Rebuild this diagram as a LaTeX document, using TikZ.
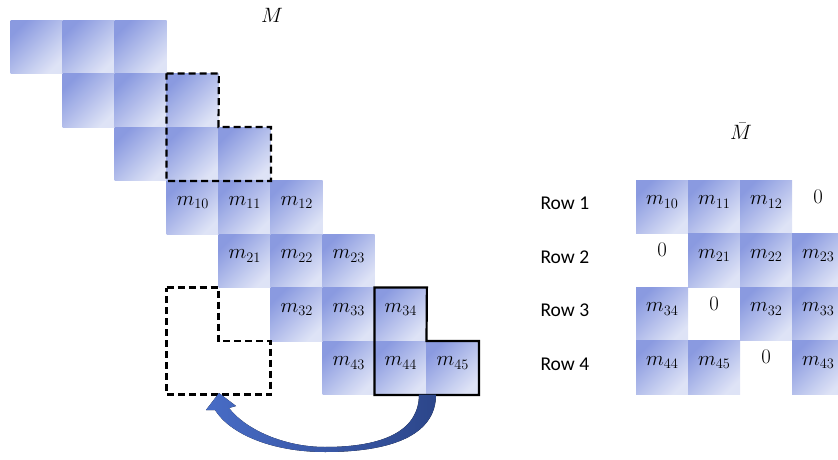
\documentclass[tikz,border=0pt]{standalone}
\usepackage{fontspec}
\newfontfamily\rowfont{Carlito}
\usetikzlibrary{shadings}
\definecolor{celldark}{RGB}{138,154,224}
\definecolor{celllight}{RGB}{222,227,246}
\definecolor{arrowleft}{RGB}{72,108,198}
\definecolor{arrowright}{RGB}{44,70,138}
\tikzset{
  cell/.style={minimum width=52pt, minimum height=53.5pt, inner sep=0pt, anchor=north west,
    shading=axis, top color=celldark, bottom color=celllight, shading angle=45,
    text height=8pt, text depth=12pt,
    font=\fontsize{22}{26}\selectfont},
  zerocell/.style={minimum width=52pt, minimum height=53.5pt, inner sep=0pt, anchor=north west,
    text height=8pt, text depth=15pt,
    font=\fontsize{21}{26}\selectfont},
  dashL/.style={draw=black, line width=2.2pt, dash pattern=on 7pt off 4pt},
  solidL/.style={draw=black, line width=2.2pt},
  rowlab/.style={anchor=west, font=\rowfont\fontsize{19.5}{23}\selectfont},
  title/.style={font=\fontsize{22}{26}\selectfont}
}
\begin{document}
\begin{tikzpicture}[x=1pt,y=-1pt]
\useasboundingbox (0,0) rectangle (838,460);
\begin{scope}
\clip (0,0) rectangle (838,460);
\node[title] (M) at (272,15) {$M$};
\node[title] (Mb) at (741,131) {$\bar{M}$};
% left band matrix
\node[cell] (a00) at (10.5,20) {};
\node[cell] (a01) at (62.5,20) {};
\node[cell] (a02) at (114.5,20) {};
\node[cell] (a11) at (62.5,73.5) {};
\node[cell] (a12) at (114.5,73.5) {};
\node[cell] (a13) at (166.5,73.5) {};
\node[cell] (a22) at (114.5,127) {};
\node[cell] (a23) at (166.5,127) {};
\node[cell] (a24) at (218.5,127) {};
\node[cell] (m10) at (166.5,180.5) {$m_{10}$};
\node[cell] (m11) at (218.5,180.5) {$m_{11}$};
\node[cell] (m12) at (270.5,180.5) {$m_{12}$};
\node[cell] (m21) at (218.5,234) {$m_{21}$};
\node[cell] (m22) at (270.5,234) {$m_{22}$};
\node[cell] (m23) at (322.5,234) {$m_{23}$};
\node[cell] (m32) at (270.5,287.5) {$m_{32}$};
\node[cell] (m33) at (322.5,287.5) {$m_{33}$};
\node[cell] (m34) at (374.5,287.5) {$m_{34}$};
\node[cell] (m43) at (322.5,341) {$m_{43}$};
\node[cell] (m44) at (374.5,341) {$m_{44}$};
\node[cell] (m45) at (426.5,341) {$m_{45}$};
% outlines
\draw[dashL] (a13.north west) -- (a13.north east) -- (a24.north west) -- (a24.north east)
  -- (a24.south east) -- (a23.south west) -- cycle;
\coordinate (d1) at (166.5,287.5);
\coordinate (d2) at (218.5,287.5);
\coordinate (d3) at (218.5,341);
\coordinate (d4) at (270.5,341);
\coordinate (d5) at (270.5,394.5);
\coordinate (d6) at (166.5,394.5);
\draw[dashL] (d1) -- (d2) -- (d3) -- (d4) -- (d5) -- (d6) -- cycle;
\draw[solidL] (m34.north west) -- (m34.north east) -- (m45.north west) -- (m45.north east)
  -- (m45.south east) -- (m44.south west) -- cycle;
% curved arrow
\coordinate (arrTip) at (219,393);
\fill[left color=arrowleft, right color=arrowright]
  (436,394.5) .. controls (436,436) and (390,452) .. (325,452)
  .. controls (272,452) and (230,434) .. (215,410)
  -- (206,410) -- (arrTip) -- (236,406) -- (229,408)
  .. controls (246,430) and (285,447) .. (325,447)
  .. controls (385,447) and (419,430) .. (419,394.5) -- cycle;
% right matrix
\node[rowlab] (r1) at (537,203.5) {Row 1};
\node[rowlab] (r2) at (537,257) {Row 2};
\node[rowlab] (r3) at (537,310.5) {Row 3};
\node[rowlab] (r4) at (537,364) {Row 4};
\node[cell] (b10) at (636,180) {$m_{10}$};
\node[cell] (b11) at (688,180) {$m_{11}$};
\node[cell] (b12) at (740,180) {$m_{12}$};
\node[zerocell] (b13) at (792,180) {$0$};
\node[zerocell] (b20) at (636,233.5) {$0$};
\node[cell] (b21) at (688,233.5) {$m_{21}$};
\node[cell] (b22) at (740,233.5) {$m_{22}$};
\node[cell] (b23) at (792,233.5) {$m_{23}$};
\node[cell] (b34) at (636,287) {$m_{34}$};
\node[zerocell] (b30) at (688,287) {$0$};
\node[cell] (b32) at (740,287) {$m_{32}$};
\node[cell] (b33) at (792,287) {$m_{33}$};
\node[cell] (b44) at (636,340.5) {$m_{44}$};
\node[cell] (b45) at (688,340.5) {$m_{45}$};
\node[zerocell] (b40) at (740,340.5) {$0$};
\node[cell] (b43) at (792,340.5) {$m_{43}$};
\end{scope}
\end{tikzpicture}
\end{document}
